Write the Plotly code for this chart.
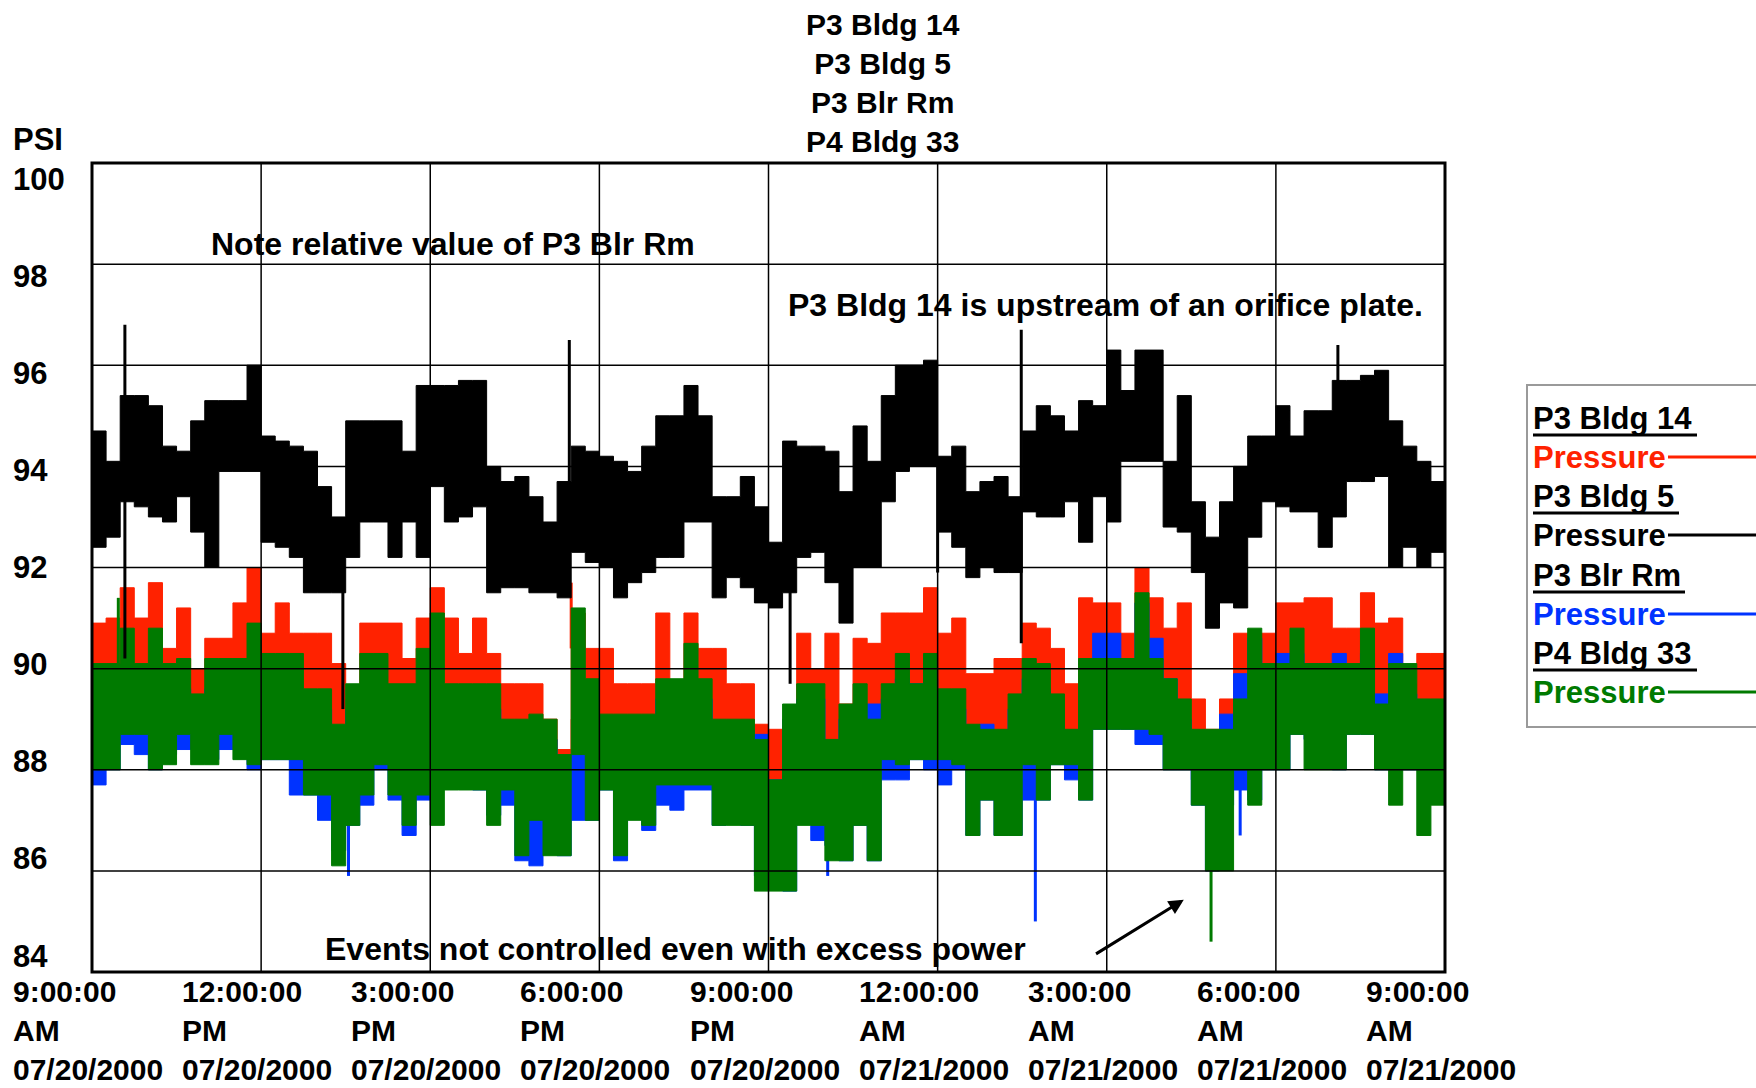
import pandas as pd
import plotly.graph_objects as go

# ---------------- data (15-minute envelope: high / low per slot) ----------------
start_time = "2000-07-20 09:00"
n_slots = 96

black_hi = [94.7,94.1,95.4,95.4,95.2,94.4,94.3,94.9,95.3,95.3,95.3,96.0,
            94.6,94.5,94.4,94.3,93.6,93.0,94.9,94.9,94.9,94.9,94.3,95.6,
            95.6,95.6,95.7,95.7,94.0,93.7,93.8,93.4,92.9,93.7,94.4,94.3,
            94.2,94.1,93.9,94.4,95.0,95.0,95.6,95.0,93.4,93.4,93.8,93.2,
            92.5,94.5,94.4,94.4,94.3,93.5,94.8,94.1,95.4,96.0,96.0,96.1,
            94.2,94.4,93.5,93.7,93.8,93.4,94.7,95.2,95.0,94.7,95.3,95.2,
            96.3,95.5,96.3,96.3,94.1,95.4,93.3,92.6,93.3,94.0,94.6,94.6,
            95.2,94.6,95.1,95.1,95.7,95.7,95.8,95.9,94.9,94.4,94.1,93.7]
black_lo = [92.4,92.6,93.3,93.2,93.0,92.9,93.4,92.7,92.0,93.9,93.9,93.9,
            92.5,92.4,92.2,91.5,91.5,91.5,92.2,92.9,92.9,92.2,92.9,92.2,
            93.6,92.9,93.0,93.2,91.5,91.6,91.6,91.5,91.5,91.4,92.3,92.1,
            92.0,91.4,91.7,91.9,92.2,92.2,92.9,92.9,91.4,91.8,91.6,91.3,
            91.2,91.5,92.2,92.3,91.7,90.9,92.0,92.0,93.3,93.9,94.0,94.0,
            92.7,92.4,91.8,92.0,91.9,91.9,93.1,93.0,93.0,93.3,92.5,93.4,
            92.9,94.1,94.1,94.1,92.8,92.7,91.9,90.8,91.3,91.2,92.6,93.3,
            93.2,93.1,93.1,92.4,93.0,93.7,93.7,93.8,92.0,92.4,92.0,92.3]

red_hi = [90.9,91.0,91.6,91.0,91.7,90.4,91.2,90.0,90.6,90.6,91.3,92.0,
          90.7,91.3,90.7,90.7,90.7,90.1,89.4,90.9,90.9,90.9,90.2,91.0,
          91.6,91.0,90.3,91.0,90.3,89.7,89.7,89.7,89.0,88.4,91.1,90.4,
          90.4,89.7,89.7,89.7,91.1,89.7,91.1,90.4,90.4,89.7,89.7,88.9,
          88.8,88.4,90.7,90.0,90.7,89.3,90.6,90.5,91.1,91.1,91.1,91.6,
          90.7,91.0,89.9,89.9,90.2,90.2,90.9,90.8,90.4,89.7,91.4,91.3,
          91.3,90.7,92.0,91.4,90.8,91.3,89.4,88.8,89.4,90.7,90.7,90.7,
          91.3,91.3,91.4,91.4,90.8,90.8,91.5,90.9,91.0,89.7,90.3,90.3]
red_lo = [88.6,89.5,89.2,89.3,89.3,89.0,89.0,89.0,89.0,89.0,89.0,89.0,
          89.0,89.0,89.0,89.0,89.0,88.9,88.3,89.0,89.0,89.0,89.0,89.0,
          89.0,89.0,89.0,89.0,89.0,88.8,88.8,88.8,88.6,88.2,89.0,89.0,
          89.0,87.7,88.8,88.8,89.0,89.0,89.0,89.0,88.8,88.8,88.8,87.6,
          87.6,87.4,89.0,89.0,88.5,87.4,89.0,88.8,89.0,89.0,89.0,89.0,
          89.0,89.0,88.7,88.7,88.7,89.0,89.0,89.0,89.0,88.7,89.0,89.0,
          89.0,89.0,89.0,89.0,89.0,89.0,88.4,87.8,88.2,89.0,89.0,89.0,
          89.0,89.0,89.0,89.0,89.0,89.0,89.0,89.0,89.0,89.0,89.0,88.8]

blue_hi = [89.4,89.6,89.4,89.6,89.8,89.6,89.6,89.4,89.6,89.7,89.6,89.8,
           89.6,89.6,89.6,89.2,89.2,88.6,89.2,89.6,89.6,89.4,89.4,89.6,
           89.0,89.2,89.2,89.2,89.2,88.8,88.8,88.8,88.6,88.2,88.3,89.4,
           88.8,88.8,88.8,88.8,89.4,89.4,89.8,89.4,88.8,88.8,88.8,88.7,
           87.8,89.0,89.4,89.4,88.4,89.0,89.3,89.3,89.4,89.8,89.7,89.8,
           89.2,89.2,88.7,88.9,88.6,89.2,89.8,89.6,89.2,88.6,89.8,90.7,
           90.7,89.8,91.3,90.6,89.8,89.0,87.8,87.8,89.1,89.9,90.6,89.8,
           90.3,90.3,90.1,90.1,90.3,90.0,90.3,89.5,90.3,89.5,89.0,88.9]
blue_lo = [87.7,88.0,88.5,88.3,88.0,88.3,88.4,88.4,88.2,88.4,88.7,88.0,
           88.2,88.2,87.5,87.5,87.0,86.4,86.9,87.3,88.0,87.4,86.7,87.4,
           87.6,87.8,87.8,87.6,87.1,87.3,86.2,86.1,86.6,86.3,87.0,87.0,
           87.6,86.2,87.2,86.8,87.3,87.2,87.6,87.6,86.9,87.4,86.9,85.9,
           86.0,85.6,87.4,86.6,86.5,86.2,86.9,86.2,87.8,87.8,88.2,88.0,
           87.7,88.0,86.7,87.4,86.7,86.7,87.4,87.4,88.1,87.8,87.4,88.8,
           88.8,88.8,88.5,88.5,88.0,88.0,87.3,86.0,87.3,87.6,87.4,88.0,
           88.0,88.7,88.6,88.6,88.0,88.7,88.7,88.0,88.0,88.0,88.0,87.8]

green_hi = [90.1,90.1,90.8,90.1,90.8,90.1,90.2,89.5,90.2,90.2,90.2,90.9,
            90.3,90.3,90.3,89.6,89.6,88.9,89.7,90.3,90.3,89.7,89.7,90.4,
            91.1,89.7,89.7,89.7,89.7,89.0,89.0,89.1,89.0,88.3,91.2,89.8,
            89.1,89.1,89.1,89.1,89.8,89.8,90.5,89.8,89.0,89.0,89.0,88.6,
            87.8,89.3,89.7,89.7,88.6,89.3,89.7,89.0,89.7,90.3,89.7,90.3,
            89.6,89.6,88.9,88.8,88.8,89.5,90.2,90.1,89.5,88.8,90.2,90.2,
            90.2,90.2,91.5,90.2,89.8,89.4,88.8,88.8,88.8,89.4,90.8,90.1,
            90.1,90.8,90.1,90.1,90.1,90.1,90.8,89.3,90.1,90.1,89.4,89.4]
green_lo = [88.0,88.0,88.7,88.7,88.0,88.1,88.7,88.1,88.1,88.7,88.2,88.1,
            88.2,88.2,88.2,87.5,87.5,86.1,86.9,87.5,88.1,87.5,86.9,87.5,
            86.9,87.6,87.6,87.6,86.9,87.6,86.3,87.0,86.3,86.3,88.3,87.0,
            87.6,86.3,87.0,86.9,87.7,87.7,87.7,87.7,86.9,86.9,86.9,85.6,
            85.6,85.6,86.9,86.9,86.2,86.2,86.9,86.2,88.2,88.1,88.2,88.2,
            88.2,88.1,86.7,87.4,86.7,86.7,88.1,87.4,88.1,88.1,87.4,88.8,
            88.8,88.8,88.8,88.7,88.0,88.0,87.3,86.0,86.0,88.0,87.3,88.0,
            88.0,88.7,88.0,88.0,88.0,88.7,88.7,88.0,87.3,88.0,86.7,87.3]

# isolated short excursions: (time, from, to)
black_spikes = [("2000-07-20 09:35", 90.2, 96.8), ("2000-07-20 13:27", 89.2, 92.0),
                ("2000-07-20 17:28", 93.0, 96.5), ("2000-07-20 21:23", 89.7, 92.5),
                ("2000-07-21 00:00", 91.9, 94.0), ("2000-07-21 01:29", 90.5, 96.7),
                ("2000-07-21 07:06", 95.0, 96.4)]
red_spikes = [("2000-07-20 17:30", 90.4, 91.7)]
blue_spikes = [("2000-07-20 13:33", 85.9, 87.0), ("2000-07-20 22:03", 85.9, 86.8),
               ("2000-07-21 01:44", 85.0, 87.4), ("2000-07-21 05:22", 86.7, 87.6)]
green_spikes = [("2000-07-20 09:28", 90.1, 91.4), ("2000-07-21 04:51", 84.6, 86.0)]

tick_times = ["2000-07-20 09:00", "2000-07-20 12:00", "2000-07-20 15:00",
              "2000-07-20 18:00", "2000-07-20 21:00", "2000-07-21 00:00",
              "2000-07-21 03:00", "2000-07-21 06:00", "2000-07-21 09:00"]
tick_text = ["9:00:00<br>AM<br>07/20/2000", "12:00:00<br>PM<br>07/20/2000",
             "3:00:00<br>PM<br>07/20/2000", "6:00:00<br>PM<br>07/20/2000",
             "9:00:00<br>PM<br>07/20/2000", "12:00:00<br>AM<br>07/21/2000",
             "3:00:00<br>AM<br>07/21/2000", "6:00:00<br>AM<br>07/21/2000",
             "9:00:00<br>AM<br>07/21/2000"]
y_ticks = [100, 98, 96, 94, 92, 90, 88, 86, 84]

legend_names = ["P3 Bldg 14", "P3 Bldg 5", "P3 Blr Rm", "P4 Bldg 33"]
title_lines = ["P3 Bldg 14", "P3 Bldg 5", "P3 Blr Rm", "P4 Bldg 33"]

RED, BLACK, BLUE, GREEN = "#ff2200", "#000000", "#0033ff", "#007a00"

# ---------------- figure ----------------
W, H = 1756, 1088
L, R, T, B = 92, 311, 163, 116
PW, PH = W - L - R, H - T - B


def px_x(px):
    return (px - L) / PW


def px_y(py):
    return (H - B - py) / PH


times = list(pd.date_range(start_time, periods=n_slots + 1, freq="15min"))

fig = go.Figure()


def add_series(lo, hi, spikes, color):
    fig.add_trace(go.Scatter(x=times, y=lo + [lo[-1]], mode="lines",
                             line=dict(shape="hv", width=1, color=color),
                             hoverinfo="skip", showlegend=False))
    fig.add_trace(go.Scatter(x=times, y=hi + [hi[-1]], mode="lines",
                             line=dict(shape="hv", width=1, color=color),
                             fill="tonexty", fillcolor=color,
                             hoverinfo="skip", showlegend=False))
    sx, sy = [], []
    for t, a, b in spikes:
        sx += [t, t, None]
        sy += [a, b, None]
    fig.add_trace(go.Scatter(x=sx, y=sy, mode="lines",
                             line=dict(width=3, color=color),
                             hoverinfo="skip", showlegend=False))


add_series(red_lo, red_hi, red_spikes, RED)
add_series(blue_lo, blue_hi, blue_spikes, BLUE)
add_series(green_lo, green_hi, green_spikes, GREEN)
add_series(black_lo, black_hi, black_spikes, BLACK)

FONT = "Liberation Sans, Arial, sans-serif"
shapes = []
# grid lines drawn above traces
for t in tick_times[1:-1]:
    shapes.append(dict(type="line", xref="x", yref="paper", x0=t, x1=t, y0=0, y1=1,
                       line=dict(color="black", width=1.5), layer="above"))
for v in y_ticks[1:-1]:
    shapes.append(dict(type="line", xref="paper", yref="y", x0=0, x1=1, y0=v, y1=v,
                       line=dict(color="black", width=1.5), layer="above"))
# frame
shapes.append(dict(type="rect", xref="paper", yref="paper", x0=0, x1=1, y0=0, y1=1,
                   line=dict(color="black", width=3), layer="above"))

annotations = []
# x tick labels (left aligned block)
for t, txt in zip(tick_times, tick_text):
    annotations.append(dict(x=t, xref="x", y=0, yref="paper", text=txt,
                            showarrow=False, xanchor="left", yanchor="top",
                            align="left", xshift=-81, yshift=-1,
                            font=dict(family=FONT, size=30, color="black", weight="bold")))
# y tick labels
for v in y_ticks:
    annotations.append(dict(x=0, xref="paper", y=v, yref="y", text=str(v),
                            showarrow=False, xanchor="left", yanchor="middle",
                            xshift=-81, yshift=-(v - 92) * 2.0,
                            font=dict(family=FONT, size=31, color="black", weight="bold")))
annotations.append(dict(x=0, xref="paper", y=1, yref="paper", text="PSI",
                        showarrow=False, xanchor="left", yanchor="bottom",
                        xshift=-81, yshift=4,
                        font=dict(family=FONT, size=31, color="black", weight="bold")))
# title
annotations.append(dict(x=px_x(883), xref="paper", y=1, yref="paper",
                        text="<br>".join(title_lines), showarrow=False,
                        xanchor="center", yanchor="bottom", yshift=3, align="center",
                        font=dict(family=FONT, size=30, color="black", weight="bold")))
# notes in the plot
notes = [("Note relative value of P3 Blr Rm", "2000-07-20 11:05", 98.39),
         ("P3 Bldg 14 is upstream of an orifice plate.", "2000-07-20 21:19", 97.2),
         ("Events not controlled even with excess power", "2000-07-20 13:06", 84.45)]
for txt, x, y in notes:
    annotations.append(dict(x=x, xref="x", y=y, yref="y", text=txt, showarrow=False,
                            xanchor="left", yanchor="middle",
                            font=dict(family=FONT, size=32, color="black", weight="bold")))
annotations.append(dict(x="2000-07-21 04:22", y=85.43, xref="x", yref="y",
                        ax="2000-07-21 02:47", ay=84.34,
                        axref="x", ayref="y", text="", showarrow=True,
                        arrowhead=2, arrowsize=1, arrowwidth=3, arrowcolor="black"))

# manual legend
shapes.append(dict(type="rect", xref="paper", yref="paper",
                   x0=px_x(1527), x1=px_x(1762), y0=px_y(727), y1=px_y(385),
                   line=dict(color="#9a9a9a", width=2), fillcolor="rgba(0,0,0,0)"))
legend_colors = [RED, BLACK, BLUE, GREEN]
row_y = [418, 457, 496, 535, 575, 614, 653, 692]
underline_end = [1697, 1679, 1685, 1697]
for i, (name, col) in enumerate(zip(legend_names, legend_colors)):
    yn, yp = row_y[2 * i], row_y[2 * i + 1]
    annotations.append(dict(x=px_x(1531), xref="paper", y=px_y(yn), yref="paper",
                            text=name, showarrow=False, xanchor="left", yanchor="middle",
                            font=dict(family=FONT, size=31, color="black", weight="bold")))
    shapes.append(dict(type="line", xref="paper", yref="paper",
                       x0=px_x(1533), x1=px_x(underline_end[i]),
                       y0=px_y(yn + 17), y1=px_y(yn + 17),
                       line=dict(color="black", width=3)))
    annotations.append(dict(x=px_x(1531), xref="paper", y=px_y(yp), yref="paper",
                            text="Pressure", showarrow=False, xanchor="left", yanchor="middle",
                            font=dict(family=FONT, size=31, color=col, weight="bold")))
    shapes.append(dict(type="line", xref="paper", yref="paper",
                       x0=px_x(1668), x1=px_x(1760), y0=px_y(yp), y1=px_y(yp),
                       line=dict(color=col, width=3)))

fig.update_layout(
    width=W, height=H, autosize=False,
    margin=dict(l=L, r=R, t=T, b=B),
    paper_bgcolor="white", plot_bgcolor="white",
    showlegend=False, hovermode=False,
    shapes=shapes, annotations=annotations,
    xaxis=dict(type="date", range=[tick_times[0], tick_times[-1]],
               showgrid=False, zeroline=False, showticklabels=False, ticks="",
               showline=False, fixedrange=True),
    yaxis=dict(range=[84, 100], showgrid=False, zeroline=False,
               showticklabels=False, ticks="", showline=False, fixedrange=True),
)

fig.write_html(
    "out.html",
    config={"displayModeBar": False},
    post_script="document.body.style.margin='0px';document.body.style.overflow='hidden';",
)
